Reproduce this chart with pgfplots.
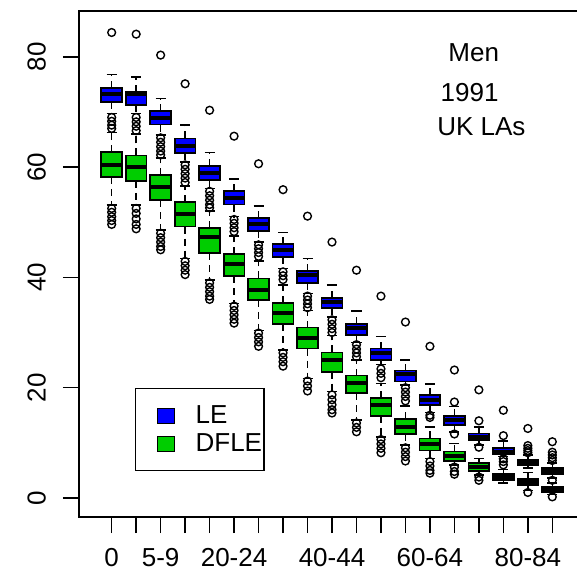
\documentclass[border=0pt]{standalone}
\usepackage{pgfplots}
\pgfplotsset{compat=1.18}
\usepgfplotslibrary{statistics}
\usepackage{fontspec}
\setmainfont{Liberation Sans}
\definecolor{leblue}{RGB}{0,0,255}
\definecolor{dfgreen}{RGB}{0,205,0}
\newcommand{\fs}{\fontsize{26}{28}\selectfont}
\pgfplotsset{
  LEst/.style={black, mark=o, mark size=3.9pt, mark options={solid,line width=1.4pt,fill=none},
    boxplot/every box/.style={draw=black,line width=1.7pt,fill=leblue},
    boxplot/every median/.style={line width=4pt}},
  DFst/.style={black, mark=o, mark size=3.9pt, mark options={solid,line width=1.4pt,fill=none},
    boxplot/every box/.style={draw=black,line width=1.7pt,fill=dfgreen},
    boxplot/every median/.style={line width=4pt}},
}
% #1 pos, #2 style, #3 lw, #4 q1, #5 med, #6 q3, #7 uw, #8 outliers
\newcommand{\BP}[8]{%
  \addplot[#2, forget plot, boxplot prepared={draw position=#1, lower whisker=#3,
    lower quartile=#4, median=#5, upper quartile=#6, upper whisker=#7}]
    table[row sep=\\, y index=0] {v\\ #8};
}
\begin{document}
\begin{tikzpicture}
\begin{axis}[
  at={(79pt,60pt)}, anchor=south west,
  scale only axis, width=506pt, height=506pt,
  xmin=-0.335, xmax=20.335, ymin=-3.45, ymax=88.3,
  axis line style={line width=1.6pt},
  tick align=outside, tick pos=left, major tick length=16pt,
  every tick/.style={black,line width=1.6pt},
  xtick={1,...,19},
  xticklabels={0,,5-9,,,20-24,,,,40-44,,,,60-64,,,,80-84,},
  ytick={0,20,40,60,80},
  /pgf/number format/assume math mode=true,
  ticklabel style={font=\fs, inner sep=0pt},
  yticklabel style={rotate=90, anchor=south},
  xticklabel style={anchor=north},
  xticklabel shift=15pt, yticklabel shift=17pt,
  boxplot/draw direction=y,
  boxplot/box extend=0.85,
  boxplot/whisker extend=0.41,
  boxplot/draw/lower whisker/.code={%
    \draw[black,line width=1.5pt,dash pattern=on 7pt off 5pt]
      (boxplot box cs:\pgfplotsboxplotvalue{lower quartile},0.5) --
      (boxplot box cs:\pgfplotsboxplotvalue{lower whisker},0.5);
    \draw[black,line width=1.5pt,solid]
      (boxplot whisker cs:\pgfplotsboxplotvalue{lower whisker},0) --
      (boxplot whisker cs:\pgfplotsboxplotvalue{lower whisker},1);
  },
  boxplot/draw/upper whisker/.code={%
    \draw[black,line width=1.5pt,dash pattern=on 7pt off 5pt]
      (boxplot box cs:\pgfplotsboxplotvalue{upper quartile},0.5) --
      (boxplot box cs:\pgfplotsboxplotvalue{upper whisker},0.5);
    \draw[black,line width=1.5pt,solid]
      (boxplot whisker cs:\pgfplotsboxplotvalue{upper whisker},0) --
      (boxplot whisker cs:\pgfplotsboxplotvalue{upper whisker},1);
  },
  legend style={at={(axis description cs:0.1107,0.2549)}, anchor=north west,
    draw=black, line width=1.2pt, font=\fs, inner xsep=2pt, inner ysep=13pt,
    row sep=0pt, nodes={inner sep=0pt}, cells={anchor=west}},
]
\addlegendimage{legend image code/.code={\path[draw=none,fill=none] (-20pt,-14pt) rectangle (38pt,14pt);\draw[black,line width=1.2pt,fill=leblue] (0pt,-7.5pt) rectangle (17pt,7.5pt);}}
\addlegendentry{LE}
\addlegendimage{legend image code/.code={\path[draw=none,fill=none] (-20pt,-14pt) rectangle (38pt,14pt);\draw[black,line width=1.2pt,fill=dfgreen] (0pt,-7.5pt) rectangle (17pt,7.5pt);}}
\addlegendentry{DFLE}
% LE
\BP{1}{LEst}{69.7}{71.8}{73.3}{74.3}{76.8}{84.4\\ 69.0\\ 68.3\\ 67.6\\ 67.0\\}
\BP{2}{LEst}{69.7}{71.3}{73.2}{73.7}{76.3}{84.1\\ 69.0\\ 68.2\\ 67.4\\ 66.6\\}
\BP{3}{LEst}{65.8}{67.7}{68.9}{70.2}{72.4}{80.3\\ 65.3\\ 64.5\\ 63.7\\ 62.9\\ 62.2\\}
\BP{4}{LEst}{60.9}{62.6}{63.8}{65.2}{67.6}{75.1\\ 60.4\\ 59.6\\ 58.8\\ 58.0\\ 57.2\\}
\BP{5}{LEst}{56.1}{57.7}{59.0}{60.2}{62.6}{70.3\\ 55.6\\ 54.8\\ 54.0\\ 53.2\\ 52.6\\}
\BP{6}{LEst}{51.0}{53.2}{54.4}{55.6}{57.8}{65.6\\ 50.5\\ 49.8\\ 49.0\\ 48.3\\}
\BP{7}{LEst}{46.4}{48.4}{49.6}{50.8}{52.9}{60.6\\ 45.9\\ 45.2\\ 44.5\\ 43.8\\}
\BP{8}{LEst}{41.6}{43.7}{44.9}{46.0}{48.1}{55.9\\ 41.0\\ 40.3\\ 39.6\\}
\BP{9}{LEst}{37.1}{39.0}{40.4}{41.1}{43.4}{51.1\\ 36.6\\ 35.9\\ 35.2\\ 34.5\\}
\BP{10}{LEst}{32.8}{34.4}{35.6}{36.3}{38.6}{46.4\\ 32.3\\ 31.5\\ 30.7\\ 30.0\\}
\BP{11}{LEst}{28.2}{29.5}{30.9}{31.6}{33.9}{41.3\\ 27.8\\ 27.0\\ 26.3\\ 25.6\\}
\BP{12}{LEst}{24.2}{25.0}{26.2}{27.1}{29.3}{36.6\\ 23.4\\ 22.6\\ 21.8\\}
\BP{13}{LEst}{20.5}{21.1}{22.4}{23.1}{25.0}{31.9\\ 20.0\\ 19.2\\ 18.4\\ 17.6\\}
\BP{14}{LEst}{15.5}{16.8}{17.7}{18.7}{20.7}{27.5\\ 15.0\\ 14.6\\}
\BP{15}{LEst}{12.0}{13.2}{14.1}{14.9}{16.6}{23.2\\ 17.4\\ 11.6\\}
\BP{16}{LEst}{9.6}{10.5}{11.1}{11.7}{12.9}{19.6\\ 14.0\\ 9.2\\}
\BP{17}{LEst}{7.5}{7.9}{8.4}{9.0}{10.3}{15.9\\ 11.3\\ 7.1\\ 6.6\\ 6.0\\}
\BP{18}{LEst}{5.4}{6.0}{6.5}{7.0}{7.8}{12.6\\ 9.5\\ 9.0\\ 8.6\\ 8.2\\}
\BP{19}{LEst}{3.6}{4.3}{4.9}{5.4}{6.3}{10.2\\ 8.3\\ 7.8\\ 7.3\\ 6.8\\}
% DFLE
\BP{1}{DFst}{53.1}{58.2}{60.4}{62.7}{66.3}{52.5\\ 51.8\\ 51.0\\ 50.3\\ 49.6\\}
\BP{2}{DFst}{53.1}{57.5}{60.1}{62.1}{66.0}{52.5\\ 51.6\\ 50.6\\ 49.6\\ 48.8\\}
\BP{3}{DFst}{48.6}{54.0}{56.3}{58.5}{61.6}{48.0\\ 47.2\\ 46.4\\ 45.6\\ 45.0\\}
\BP{4}{DFst}{43.4}{49.2}{51.4}{53.7}{56.6}{42.9\\ 42.1\\ 41.3\\ 40.5\\}
\BP{5}{DFst}{39.5}{44.4}{47.3}{49.0}{52.0}{39.0\\ 38.2\\ 37.4\\ 36.6\\ 36.0\\}
\BP{6}{DFst}{35.3}{40.2}{42.5}{44.2}{47.5}{34.8\\ 34.0\\ 33.2\\ 32.4\\ 31.7\\}
\BP{7}{DFst}{30.4}{35.9}{37.8}{39.8}{43.0}{29.9\\ 29.1\\ 28.3\\ 27.5\\}
\BP{8}{DFst}{26.8}{31.5}{33.5}{35.4}{38.6}{26.3\\ 25.5\\ 24.7\\ 23.9\\}
\BP{9}{DFst}{21.7}{27.1}{29.0}{30.9}{34.0}{21.2\\ 20.3\\ 19.4\\}
\BP{10}{DFst}{19.3}{22.9}{25.1}{26.4}{29.5}{18.7\\ 17.8\\ 16.9\\ 16.0\\ 15.4\\}
\BP{11}{DFst}{14.1}{19.0}{20.8}{22.2}{25.0}{13.6\\ 12.8\\ 12.0\\}
\BP{12}{DFst}{11.1}{14.9}{16.8}{18.1}{20.8}{10.6\\ 9.8\\ 9.0\\ 8.2\\}
\BP{13}{DFst}{9.6}{11.6}{12.9}{14.3}{16.7}{9.1\\ 8.3\\ 7.5\\ 6.7\\}
\BP{14}{DFst}{7.2}{8.6}{9.8}{10.8}{12.9}{6.6\\ 5.8\\ 5.0\\ 4.5\\}
\BP{15}{DFst}{6.0}{6.7}{7.6}{8.4}{9.9}{5.6\\ 4.8\\ 4.3\\}
\BP{16}{DFst}{4.2}{4.9}{5.7}{6.4}{7.2}{3.8\\ 3.2\\}
\BP{17}{DFst}{2.7}{3.3}{3.8}{4.3}{5.2}{}
\BP{18}{DFst}{1.4}{2.3}{2.9}{3.4}{4.6}{1.0\\}
\BP{19}{DFst}{0.6}{1.0}{1.5}{2.0}{2.7}{3.2\\ 0.2\\}
\node[font=\fs] at (axis cs:15.79,80.7) {Men};
\node[font=\fs] at (axis cs:15.62,73.5) {1991};
\node[font=\fs] at (axis cs:16.10,67.4) {UK LAs};
\end{axis}
\pgfresetboundingbox
\useasboundingbox (0,0) rectangle (576pt,577pt);
\end{tikzpicture}
\end{document}
